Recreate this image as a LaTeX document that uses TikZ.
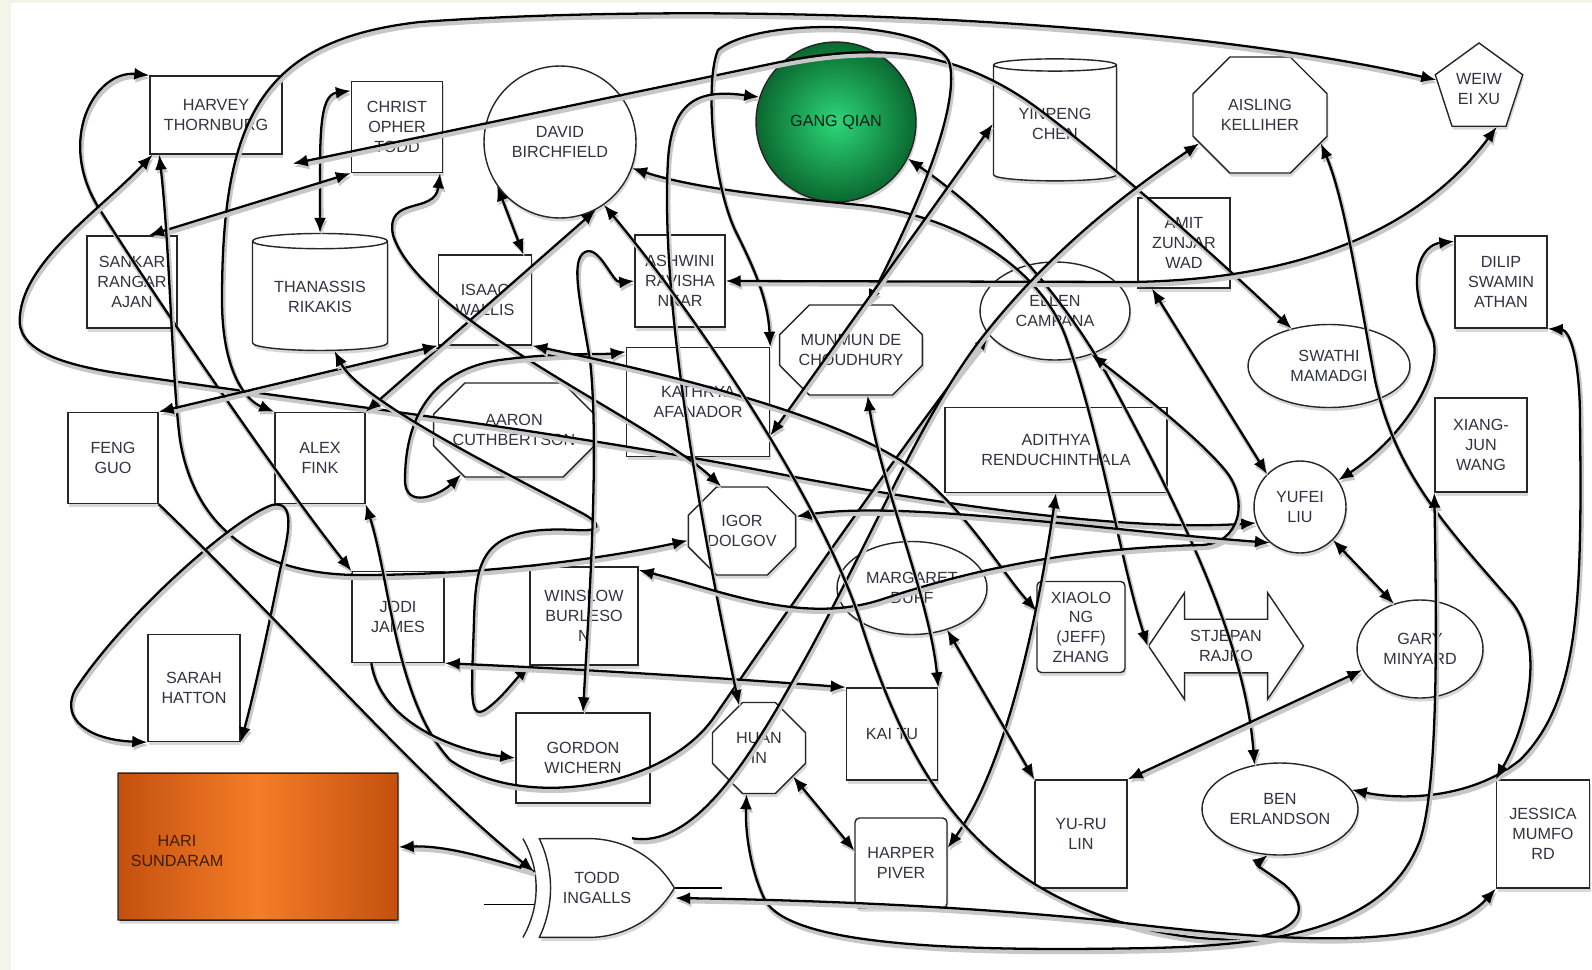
\documentclass[tikz,border=0pt]{standalone}
\usepackage{fontspec}
\setmainfont{Liberation Sans}
\usetikzlibrary{shapes.geometric, shapes.misc, shapes.arrows, shapes.gates.logic.US, shadows, arrows.meta, calc}
\definecolor{inkgray}{RGB}{50,50,66}
\definecolor{pagetint}{RGB}{243,245,234}
\definecolor{qianlight}{RGB}{45,215,120}
\definecolor{qiandark}{RGB}{10,105,48}
\definecolor{harilight}{RGB}{245,125,40}
\definecolor{haridark}{RGB}{196,80,14}
\newcommand{\whofont}{\fontsize{9.2}{11.2}\selectfont}
\tikzset{
	person/.style={
		draw=black!85,
		line width=0.8pt,
		fill=white,
		align=center,
		font=\whofont,
		text=inkgray,
		inner sep=1pt,
		drop shadow={shadow xshift=0.8pt, shadow yshift=-2pt, opacity=0.3}
	},
	box/.style={person, rectangle},
	roundbox/.style={person, rectangle, rounded corners=2.5pt},
	oct/.style={person, chamfered rectangle},
	oval/.style={person, ellipse},
	disc/.style={person, circle},
	drum/.style={person, cylinder, shape border rotate=90, aspect=0.16},
	linkone/.style={line width=1.3pt, -{Latex[length=3mm,width=2.4mm]},
		preaction={draw=black!22, line width=2.4pt, transform canvas={shift={(0.8pt,-1.8pt)}}}},
	linkboth/.style={line width=1.3pt, {Latex[length=3mm,width=2.4mm]}-{Latex[length=3mm,width=2.4mm]},
		preaction={draw=black!22, line width=2.4pt, transform canvas={shift={(0.8pt,-1.8pt)}}}}
}

\begin{document}
\begin{tikzpicture}[x=0.02cm, y=-0.02cm]
		\useasboundingbox (0,0) rectangle (1592,970);
		\fill[pagetint] (0,0) rectangle (1592,970);
		\fill[white] (11,3) rectangle (1592,970);
		
		% top row
		\node(harvey) at (216,115) [box, minimum width=2.64cm, minimum height=1.56cm] {HARVEY\\THORNBURG};
		\node(christ) at (397,127) [box, minimum width=1.82cm, minimum height=1.82cm] {CHRIST\\OPHER\\TODD};
		\node(david) at (560,142) [disc, minimum size=3.04cm] {DAVID\\BIRCHFIELD};
		\node(gangqian) at (836,122) [disc, minimum size=3.2cm, inner color=qianlight, outer color=qiandark, text=black!90] {GANG QIAN};
		\node(yinpeng) at (1055,124) [drum, minimum width=2.46cm, minimum height=2.44cm] {YINPENG\\CHEN};
		\node(aisling) at (1260,115) [oct, minimum width=2.68cm, minimum height=2.32cm, chamfered rectangle xsep=0.5cm, chamfered rectangle ysep=0.39cm] {AISLING\\KELLIHER};
		\node(weiwei) at (1479,89) [person, regular polygon, regular polygon sides=5, minimum size=1.84cm, inner sep=0pt] {WEIW\\EI XU};
		
		% second row
		\node(sankar) at (132,282) [box, minimum width=1.8cm, minimum height=1.84cm] {SANKAR\\RANGAR\\AJAN};
		\node(thanassis) at (320,297) [drum, minimum width=2.7cm, minimum height=2.34cm] {THANASSIS\\RIKAKIS};
		\node(isaac) at (485,300) [box, minimum width=1.86cm, minimum height=1.8cm] {ISAAC\\WALLIS};
		\node(ashwini) at (680,281) [box, minimum width=1.8cm, minimum height=1.84cm] {ASHWINI\\RAVISHA\\NKAR};
		\node(amit) at (1184,243) [box, minimum width=1.84cm, minimum height=1.8cm] {AMIT\\ZUNJAR\\WAD};
		\node(ellen) at (1055,311) [oval, minimum width=3cm, minimum height=1.96cm] {ELLEN\\CAMPANA};
		\node(dilip) at (1501,282) [box, minimum width=1.84cm, minimum height=1.84cm] {DILIP\\SWAMIN\\ATHAN};
		\node(munmun) at (851,350) [oct, minimum width=2.7cm, minimum height=1.8cm, chamfered rectangle xsep=0.45cm, chamfered rectangle ysep=0.25cm] {MUNMUN DE\\CHOUDHURY};
		\node(swathi) at (1329,366) [oval, minimum width=3.24cm, minimum height=1.66cm] {SWATHI\\MAMADGI};
		
		% middle
		\node(feng) at (113,458) [box, minimum width=1.8cm, minimum height=1.82cm] {FENG\\GUO};
		\node(alex) at (320,458) [box, minimum width=1.8cm, minimum height=1.82cm] {ALEX\\FINK};
		\node(aaron) at (514,430) [oct, minimum width=3.16cm, minimum height=1.88cm, chamfered rectangle xsep=0.55cm, chamfered rectangle ysep=0.28cm] {AARON\\CUTHBERTSON};
		\node(kathrya) at (698,402) [box, minimum width=2.86cm, minimum height=2.18cm] {KATHRYA\\AFANADOR};
		\node(adithya) at (1056,450) [box, minimum width=4.44cm, minimum height=1.7cm] {ADITHYA\\RENDUCHINTHALA};
		\node(xiangjun) at (1481,445) [box, minimum width=1.84cm, minimum height=1.88cm] {XIANG-\\JUN\\WANG};
		\node(yufei) at (1300,507) [disc, minimum size=1.84cm] {YUFEI\\LIU};
		\node(igor) at (742,531) [oct, minimum width=1.82cm, minimum height=1.76cm, chamfered rectangle xsep=0.36cm, chamfered rectangle ysep=0.22cm] {IGOR\\DOLGOV};
		
		% lower middle
		\node(jodi) at (398,617) [box, minimum width=1.84cm, minimum height=1.82cm] {JODI\\JAMES};
		\node(winslow) at (584,616) [box, minimum width=2.16cm, minimum height=1.96cm] {WINSLOW\\BURLESO\\N};
		\node(margaret) at (912,588) [oval, minimum width=3cm, minimum height=1.86cm] {MARGARET\\DUFF};
		\node(xiaolong) at (1081,627) [roundbox, minimum width=1.76cm, minimum height=1.82cm] {XIAOLO\\NG\\(JEFF)\\ZHANG};
		\node(stjepan) at (1226,646) [person, double arrow, double arrow head extend=0.53cm, double arrow tip angle=112, minimum height=3.1cm, inner ysep=6pt] {STJEPAN\\RAJKO};
		\node(gary) at (1420,649) [oval, minimum width=2.52cm, minimum height=1.96cm] {GARY\\MINYARD};
		\node(sarah) at (194,688) [box, minimum width=1.84cm, minimum height=2.14cm] {SARAH\\HATTON};
		
		% bottom row
		\node(gordon) at (583,758) [box, minimum width=2.68cm, minimum height=1.8cm] {GORDON\\WICHERN};
		\node(huan) at (759,748) [oct, minimum width=1.86cm, minimum height=1.82cm, chamfered rectangle xsep=0.38cm, chamfered rectangle ysep=0.26cm] {HUAN\\IN};
		\node(kaitu) at (892,734) [box, minimum width=1.82cm, minimum height=1.84cm] {KAI TU};
		\node(harper) at (901,863) [roundbox, minimum width=1.84cm, minimum height=1.8cm] {HARPER\\PIVER};
		\node(yurulin) at (1081,834) [box, minimum width=1.84cm, minimum height=2.16cm] {YU-RU\\LIN};
		\node(ben) at (1280,809) [oval, minimum width=3.12cm, minimum height=1.84cm] {BEN\\ERLANDSON};
		\node(jessica) at (1543,834) [box, minimum width=1.86cm, minimum height=2.16cm] {JESSICA\\MUMFO\\RD};
		\node(hari) at (258,847) [drum, aspect=0.04, minimum width=5.6cm, minimum height=2.94cm, left color=haridark, right color=haridark, middle color=harilight,
			label={[font=\whofont, text={rgb,255:red,60;green,30;blue,10}, align=center, xshift=-1.62cm, yshift=-0.08cm]center:HARI\\SUNDARAM}] {};
		\node(todd) at (597,888) [person, xor gate US, logic gate inputs=nn, minimum height=1.4cm, minimum width=2.7cm] {TODD\\INGALLS};
		\draw[line width=0.8pt] (todd.input 1) -- ++(-15,0);
		\draw[line width=0.8pt] (todd.input 2) -- ++(-50,0);
		\draw[line width=0.8pt] (todd.output) -- ++(47,0);
		
		% connectors, left part
		\draw[linkboth] (harvey.north west) .. controls (95,70) and (55,140) .. (100,210) .. controls (170,320) and (280,480) .. (jodi.north west);
		\draw[linkboth] (harvey.-148) .. controls (100,210) and (25,260) .. (20,315) .. controls (15,350) and (60,365) .. (130,375) .. controls (300,400) and (560,430) .. (800,478) .. controls (1000,515) and (1150,530) .. (yufei.200);
		\draw[linkboth] (alex.north west) .. controls (245,400) and (222,370) .. (222,300) .. controls (222,120) and (260,40) .. (420,22) .. controls (700,2) and (1150,15) .. (weiwei.168);
		\draw[linkboth] (thanassis.north) .. controls (320,140) and (318,95) .. ([yshift=-0.2cm]christ.north west);
		\draw[linkboth] (sankar.70) -- (christ.south west);
		\draw[linkboth] ([shift={(0.2cm,-0.18cm)}]harvey.south east) -- (780,62) .. controls (880,42) and (960,50) .. (1040,110) .. controls (1120,170) and (1230,270) .. (swathi.135);
		\draw[linkboth] (david.215) -- (isaac.50);
		\draw[linkboth] (alex.north east) -- (david.-62);
		\draw[linkboth] (christ.-47) .. controls (435,215) and (385,195) .. (393,235) .. controls (420,320) and (650,420) .. (igor.115);
		\draw[linkboth] (harvey.-145) .. controls (170,250) and (172,380) .. (180,440) .. controls (195,530) and (260,575) .. (360,575) .. controls (500,575) and (620,555) .. (igor.190);
		\draw[linkboth] (feng.north east) -- (isaac.south west);
		\draw[linkboth] (aaron.-140) .. controls (440,495) and (405,510) .. (405,480) .. controls (405,420) and (430,370) .. (500,360) .. controls (560,352) and (600,355) .. ([yshift=-0.1cm]kathrya.north west);
		\draw[linkboth] (thanassis.-75) .. controls (360,400) and (500,470) .. (580,512) .. controls (605,525) and (600,532) .. (575,530) .. controls (480,525) and (476,560) .. (474,620) .. controls (472,690) and (468,720) .. (485,710) .. controls (500,700) and (515,680) .. (winslow.south west);
		\draw[linkboth] (sarah.south west) .. controls (90,740) and (60,720) .. (75,690) .. controls (120,620) and (230,520) .. (272,505) .. controls (295,500) and (290,530) .. (280,570) .. controls (270,620) and (255,690) .. (sarah.south east);
		\draw[linkboth] (alex.south east) .. controls (390,580) and (395,700) .. (450,760) .. controls (520,810) and (660,790) .. (712,720) .. controls (760,650) and (920,420) .. (ellen.200);
		\draw[linkone] (jodi.-120) .. controls (380,720) and (450,750) .. (gordon.west);
		\draw[linkboth] (jodi.south east) .. controls (600,670) and (750,680) .. (kaitu.north west);
		\draw[linkone] (todd.input 1) .. controls (500,862) and (450,845) .. (hari.east);
		\draw[linkone] (feng.south east) .. controls (300,640) and (420,780) .. (todd.input 1);
		
		% connectors, centre
		\draw[linkboth] (david.-20) .. controls (700,190) and (790,198) .. (860,205) .. controls (960,215) and (1040,270) .. (1065,335) .. controls (1100,430) and (1120,560) .. (stjepan.west);
		\draw[linkboth] (gangqian.-27) .. controls (990,215) and (1060,290) .. (1110,380) .. controls (1180,510) and (1245,640) .. (ben.120);
		\draw[linkboth] (munmun.70) .. controls (900,240) and (960,120) .. (950,65) .. controls (940,20) and (760,15) .. (718,50) .. controls (705,80) and (712,180) .. (735,230) .. controls (755,270) and (768,300) .. (kathrya.north east);
		\draw[linkboth] (gangqian.162) .. controls (705,90) and (672,95) .. (668,160) .. controls (660,300) and (700,520) .. (huan.115);
		\draw[linkboth] (ashwini.west) .. controls (612,283) and (600,245) .. (585,252) .. controls (570,260) and (580,300) .. (590,360) .. controls (600,450) and (588,620) .. (gordon.north);
		\draw[linkboth] (ashwini.east) -- (1130,282) .. controls (1300,280) and (1420,230) .. (weiwei.-65);
		\draw[linkboth] (kathrya.-25) -- (yinpeng.west);
		\draw[linkone] ([xshift=0.7cm]todd.north) .. controls (700,850) and (760,740) .. (810,650) .. controls (880,520) and (920,420) .. (980,340) .. controls (1050,250) and (1130,190) .. (aisling.205);
		\draw[linkboth] (isaac.south east) .. controls (650,370) and (820,410) .. (900,460) .. controls (960,500) and (1000,570) .. (xiaolong.160);
		\draw[linkboth] (ellen.-50) .. controls (1150,400) and (1200,440) .. (1225,470) .. controls (1250,500) and (1240,545) .. (1200,545) .. controls (1100,548) and (1000,560) .. (880,600) .. controls (800,625) and (720,590) .. (winslow.40);
		\draw[linkboth] (igor.15) .. controls (900,500) and (1100,530) .. (yufei.230);
		\draw[linkboth] (munmun.-70) .. controls (880,480) and (930,600) .. (kaitu.north east);
		\draw[linkboth] (huan.-40) -- (harper.165);
		\draw[linkboth] (adithya.south) .. controls (1040,600) and (1010,760) .. (harper.18);
		\draw[linkboth] (margaret.-50) -- (yurulin.north west);
		\draw[linkboth] (david.-55) .. controls (700,320) and (820,500) .. (860,620) .. controls (910,780) and (980,890) .. (1150,930) .. controls (1260,955) and (1330,925) .. (1285,885) .. controls (1265,870) and (1255,865) .. (ben.-105);
		
		% connectors, right part
		\draw[linkboth] (amit.-125) -- (yufei.135);
		\draw[linkboth] ([yshift=-0.12cm]dilip.north west) .. controls (1420,245) and (1405,280) .. (1430,330) .. controls (1450,370) and (1400,440) .. (yufei.35);
		\draw[linkboth] (dilip.south east) .. controls (1570,330) and (1580,360) .. (1580,420) .. controls (1582,600) and (1580,700) .. (1520,760) .. controls (1470,800) and (1400,800) .. (ben.15);
		\draw[linkboth] (aisling.-25) .. controls (1345,200) and (1360,300) .. (1375,380) .. controls (1395,470) and (1440,520) .. (1510,600) .. controls (1545,640) and (1530,720) .. (jessica.north west);
		\draw[linkboth] (yufei.-45) -- (gary.120);
		\draw[linkboth] (gary.200) -- (yurulin.north east);
		\draw[linkboth] (xiangjun.south west) .. controls (1436,600) and (1440,780) .. (1420,840) .. controls (1390,920) and (1300,945) .. (1150,948) .. controls (950,952) and (790,945) .. (765,900) .. controls (750,870) and (745,830) .. (huan.-105);
		\draw[linkboth] ([yshift=-0.2cm]todd.output) .. controls (800,900) and (950,905) .. (1100,920) .. controls (1300,945) and (1440,950) .. (jessica.south west);
\end{tikzpicture}
\end{document}
